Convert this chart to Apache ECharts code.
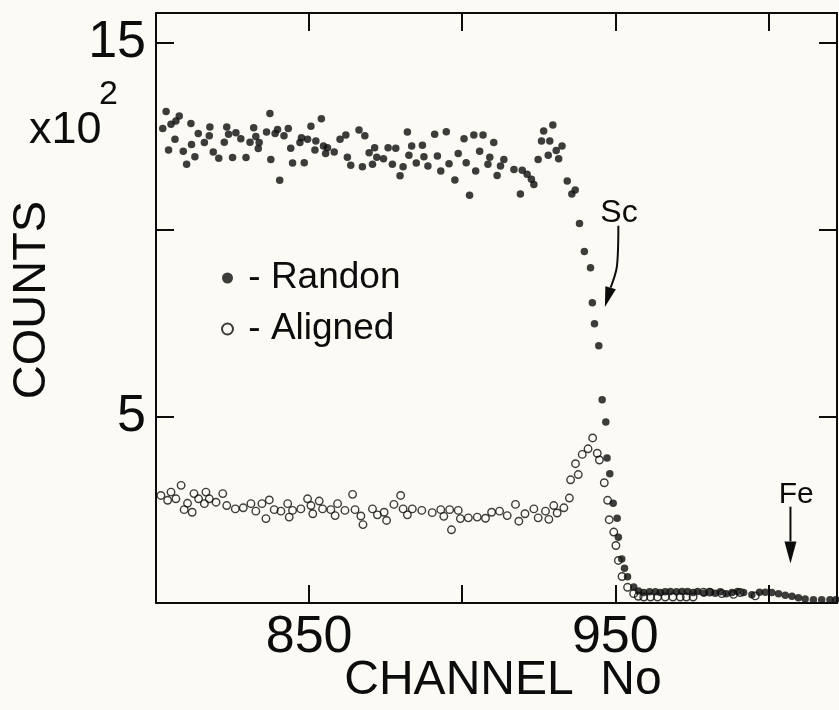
<!DOCTYPE html>
<html>
<head>
<meta charset="utf-8">
<script src="https://cdn.jsdelivr.net/npm/echarts@6/dist/echarts.min.js"></script>
<style>
  html, body { margin: 0; padding: 0; background: #fbfaf4; }
  #chart { width: 839px; height: 710px; }
</style>
</head>
<body>
<div id="chart"></div>
<script>
// channel / counts (x10^2)
const randomChannel = [
  802.2, 803.3, 804.1, 804.9, 806.2, 806.5, 807.6, 808.9, 810.0, 811.4,
  811.6, 812.7, 813.8, 815.8, 817.4, 817.6, 818.7, 820.5, 822.3, 823.1,
  823.7, 825.0, 826.1, 827.7, 829.4, 830.7, 831.9, 832.6, 833.4, 833.7,
  836.1, 837.2, 837.5, 838.9, 839.7, 840.4, 841.8, 843.2, 844.0, 844.6,
  847.0, 847.5, 848.4, 849.5, 850.6, 851.9, 852.2, 854.0, 854.7, 855.4,
  856.0, 858.2, 860.1, 862.0, 862.5, 863.6, 866.3, 867.4, 868.2, 869.6,
  870.7, 871.4, 872.1, 874.3, 875.8, 877.2, 878.3, 879.7, 880.7, 882.1,
  882.6, 883.5, 885.0, 887.0, 887.5, 888.8, 891.0, 891.9, 893.0, 894.8,
  895.7, 897.6, 898.7, 900.6, 901.3, 902.4, 903.8, 904.4, 905.7, 906.8,
  908.4, 909.0, 910.3, 911.4, 912.5, 913.6, 916.9, 919.0, 919.6, 921.2,
  922.6, 923.4, 924.8, 925.9, 926.6, 928.1, 928.6, 929.6, 930.7, 931.5,
  932.6, 934.3, 935.8, 936.9, 938.3, 939.9, 941.9, 942.5, 943.2, 944.6,
  945.7, 946.9, 947.3, 948.2, 949.3, 950.6, 951.0, 952.1, 953.0, 954.0,
  956.0, 957.6, 959.3, 961.2, 963.1, 964.7, 966.3, 968.0, 970.0, 971.8,
  973.6, 975.4, 976.9, 979.0, 981.0, 982.6, 984.3, 986.2, 988.1, 989.9,
  991.9, 994.6, 997.1, 999.0, 1001.1, 1003.3, 1005.5, 1007.7, 1009.8, 1012.0,
  1014.7, 1017.4, 1020.1, 1022.0
];
const randomCounts = [
  12.71, 13.16, 12.13, 12.82, 12.42, 12.91, 13.04, 12.10, 11.75, 12.84,
  12.28, 11.95, 12.57, 12.33, 12.51, 12.75, 12.08, 11.91, 12.34, 12.75,
  12.55, 11.93, 12.59, 12.43, 11.93, 12.34, 12.73, 12.49, 12.17, 12.33,
  12.61, 13.11, 11.88, 12.57, 12.68, 11.32, 12.51, 12.71, 12.18, 11.78,
  12.33, 12.46, 11.79, 12.42, 12.77, 12.13, 12.37, 12.97, 12.24, 12.04,
  12.19, 12.08, 12.42, 12.53, 11.94, 11.72, 12.67, 11.68, 12.51, 12.06,
  11.75, 12.19, 11.94, 11.90, 12.19, 11.75, 12.18, 11.44, 11.68, 12.61,
  11.99, 12.24, 11.78, 12.26, 11.95, 11.70, 12.55, 11.97, 11.57, 12.62,
  11.76, 11.33, 12.04, 12.43, 11.79, 10.92, 12.53, 11.57, 12.10, 12.53,
  11.75, 11.94, 12.33, 11.45, 11.70, 11.88, 11.61, 10.95, 11.59, 11.48,
  11.35, 11.21, 11.88, 12.37, 12.64, 11.99, 12.37, 12.80, 12.12, 11.90,
  12.24, 11.30, 10.95, 11.06, 10.16, 9.41, 8.98, 8.04, 7.48, 6.89,
  5.44, 4.85, 3.88, 3.46, 2.67, 2.27, 1.76, 1.18, 0.93, 0.70,
  0.43, 0.32, 0.28, 0.30, 0.30, 0.28, 0.30, 0.31, 0.30, 0.31,
  0.31, 0.28, 0.31, 0.27, 0.30, 0.26, 0.30, 0.25, 0.28, 0.31,
  0.28, 0.22, 0.29, 0.29, 0.28, 0.25, 0.21, 0.18, 0.14, 0.11,
  0.09, 0.09, 0.09, 0.09
];
const alignedChannel = [
  801.6, 803.8, 804.9, 806.5, 808.2, 809.2, 810.3, 811.8, 812.4, 813.9,
  815.8, 816.3, 817.4, 819.6, 821.8, 823.1, 825.9, 828.5, 831.0, 832.6,
  834.6, 835.9, 837.0, 838.6, 840.8, 843.0, 843.5, 844.6, 847.3, 849.5,
  850.6, 851.2, 853.3, 854.4, 857.1, 858.5, 859.3, 861.7, 864.2, 865.0,
  866.9, 867.6, 870.7, 872.3, 874.5, 875.3, 877.7, 879.9, 880.7, 882.1,
  883.7, 886.8, 890.2, 893.0, 894.0, 895.9, 896.5, 898.7, 899.4, 902.0,
  904.9, 907.6, 909.6, 912.2, 914.7, 917.4, 918.5, 920.5, 923.4, 924.8,
  927.2, 928.3, 929.9, 931.0, 933.2, 935.0, 935.4, 937.0, 937.9, 939.2,
  941.1, 942.6, 944.1, 944.8, 946.4, 947.5, 948.0, 949.5, 950.2, 951.0,
  952.2, 954.0, 956.0, 957.5, 959.3, 961.5, 963.8, 966.3, 968.8, 971.2,
  973.2, 975.4, 978.8, 980.8, 984.8, 988.6, 990.8, 995.7
];
const alignedCounts = [
  2.88, 2.75, 2.97, 2.79, 3.15, 2.50, 2.67, 2.43, 2.93, 2.79,
  2.66, 2.97, 2.79, 2.70, 2.93, 2.61, 2.52, 2.55, 2.66, 2.46,
  2.66, 2.26, 2.76, 2.50, 2.46, 2.66, 2.30, 2.48, 2.52, 2.79,
  2.61, 2.39, 2.73, 2.52, 2.50, 2.34, 2.66, 2.48, 2.91, 2.50,
  2.33, 2.10, 2.52, 2.36, 2.43, 2.21, 2.64, 2.88, 2.52, 2.36,
  2.52, 2.48, 2.42, 2.50, 2.32, 2.50, 1.96, 2.48, 2.26, 2.28,
  2.30, 2.27, 2.43, 2.46, 2.34, 2.64, 2.19, 2.39, 2.52, 2.28,
  2.46, 2.24, 2.61, 2.41, 2.55, 2.81, 3.30, 3.73, 3.44, 3.98,
  4.13, 4.42, 4.01, 3.83, 3.22, 2.75, 2.23, 1.90, 1.54, 1.14,
  0.71, 0.42, 0.25, 0.18, 0.16, 0.16, 0.16, 0.16, 0.16, 0.16,
  0.16, 0.16, 0.29, 0.29, 0.25, 0.23, 0.28, 0.19
];
const xTickLabels = [850, 950];
const yTickLabels = [5, 15];

// annotations, in data coordinates
const scText = [951.2, 10.45];
const scArrow = [[951.0, 10.1], [950.5, 9.0], [946.6, 7.93]];
const feText = [1009.1, 2.9];
const feArrow = [[1007.2, 2.58], [1007.2, 1.06]];

const font = 'Liberation Sans';
const ink = '#0c0c0c';

const zip = (xs, ys) => xs.map((x, i) => [x, ys[i]]);

const chart = echarts.init(document.getElementById('chart'));

const tick = { show: true, inside: true, length: 18, lineStyle: { color: ink, width: 2 } };
const line = { show: true, onZero: false, lineStyle: { color: ink, width: 2 } };

chart.setOption({
  backgroundColor: '#fbfaf4',
  animation: false,
  grid: { left: 156, right: 2, top: 13, bottom: 107, outerBoundsMode: 'none', containLabel: false },
  legend: {
    orient: 'vertical',
    left: 216,
    top: 253,
    itemWidth: 11,
    itemHeight: 11,
    itemGap: 11,
    formatter: n => ' - ' + n,
    textStyle: { fontFamily: font, fontSize: 37, lineHeight: 40, color: ink },
    data: [
      { name: 'Randon', icon: 'circle' },
      { name: 'Aligned', icon: 'circle' }
    ]
  },
  xAxis: [{
    type: 'value', min: 800, max: 1022.4, interval: 50,
    axisLine: line, axisTick: tick, splitLine: { show: false },
    axisLabel: {
      margin: 9, fontFamily: font, fontSize: 52, color: ink,
      formatter: v => xTickLabels.includes(v) ? String(v) : ''
    },
    name: 'CHANNEL  No', nameLocation: 'middle', nameGap: 54, nameMoveOverlap: false,
    nameTextStyle: { fontFamily: font, fontSize: 48, color: ink, padding: [0, 0, 0, 13] }
  }, {
    type: 'value', position: 'top', min: 800, max: 1022.4, interval: 50,
    axisLine: line, axisTick: tick, splitLine: { show: false },
    axisLabel: { show: false }
  }],
  yAxis: [{
    type: 'value', min: 0, max: 15.8, interval: 5,
    axisLine: line, axisTick: tick, splitLine: { show: false },
    axisLabel: {
      margin: 10, fontFamily: font, fontSize: 52, color: ink,
      formatter: v => yTickLabels.includes(v) ? String(v) : ''
    },
    name: 'COUNTS', nameLocation: 'middle', nameRotate: 90, nameGap: 100, nameMoveOverlap: false,
    nameTextStyle: { fontFamily: font, fontSize: 47, color: ink, padding: [0, 0, 0, 16] }
  }, {
    type: 'value', position: 'right', min: 0, max: 15.8, interval: 5,
    axisLine: line, axisTick: tick, splitLine: { show: false },
    axisLabel: { show: false }
  }],
  series: [{
    name: 'Randon',
    type: 'scatter',
    symbol: 'circle',
    symbolSize: 7.5,
    itemStyle: { color: ink },
    data: zip(randomChannel, randomCounts)
  }, {
    name: 'Aligned',
    type: 'scatter',
    symbol: 'circle',
    symbolSize: 7.5,
    itemStyle: { color: 'rgba(0,0,0,0)', borderColor: ink, borderWidth: 1.4 },
    data: zip(alignedChannel, alignedCounts)
  }]
});

// text and arrows placed through the axes
const px = p => chart.convertToPixel({ xAxisIndex: 0, yAxisIndex: 0 }, p);

function arrow(points, headLen, headHalf) {
  const pts = points.map(px);
  const tip = pts[pts.length - 1];
  const prev = pts[pts.length - 2];
  const dx = tip[0] - prev[0], dy = tip[1] - prev[1];
  const len = Math.hypot(dx, dy);
  const ux = dx / len, uy = dy / len;
  const bx = tip[0] - ux * headLen, by = tip[1] - uy * headLen;
  const shaft = pts.slice(0, -1).concat([[bx, by]]);
  return [{
    type: 'polyline',
    shape: { points: shaft, smooth: 0.3 },
    style: { stroke: ink, lineWidth: 2, fill: null }
  }, {
    type: 'polygon',
    shape: { points: [tip, [bx - uy * headHalf, by + ux * headHalf], [bx + uy * headHalf, by - ux * headHalf]] },
    style: { fill: ink }
  }];
}

const sc = px(scText);
const fe = px(feText);

chart.setOption({
  graphic: [
    {
      type: 'text', x: 29, y: 131,
      style: { text: 'x10', font: '45px ' + font, fill: ink, textVerticalAlign: 'middle' }
    },
    {
      type: 'text', x: 99, y: 95,
      style: { text: '2', font: '34px ' + font, fill: ink, textVerticalAlign: 'middle' }
    },
    {
      type: 'text', x: sc[0], y: sc[1],
      style: { text: 'Sc', font: '32px ' + font, fill: ink, textAlign: 'center', textVerticalAlign: 'middle' }
    },
    {
      type: 'text', x: fe[0], y: fe[1],
      style: { text: 'Fe', font: '30px ' + font, fill: ink, textAlign: 'center', textVerticalAlign: 'middle' }
    }
  ].concat(arrow(scArrow, 20, 5.5), arrow(feArrow, 22, 6))
});
</script>
</body>
</html>
